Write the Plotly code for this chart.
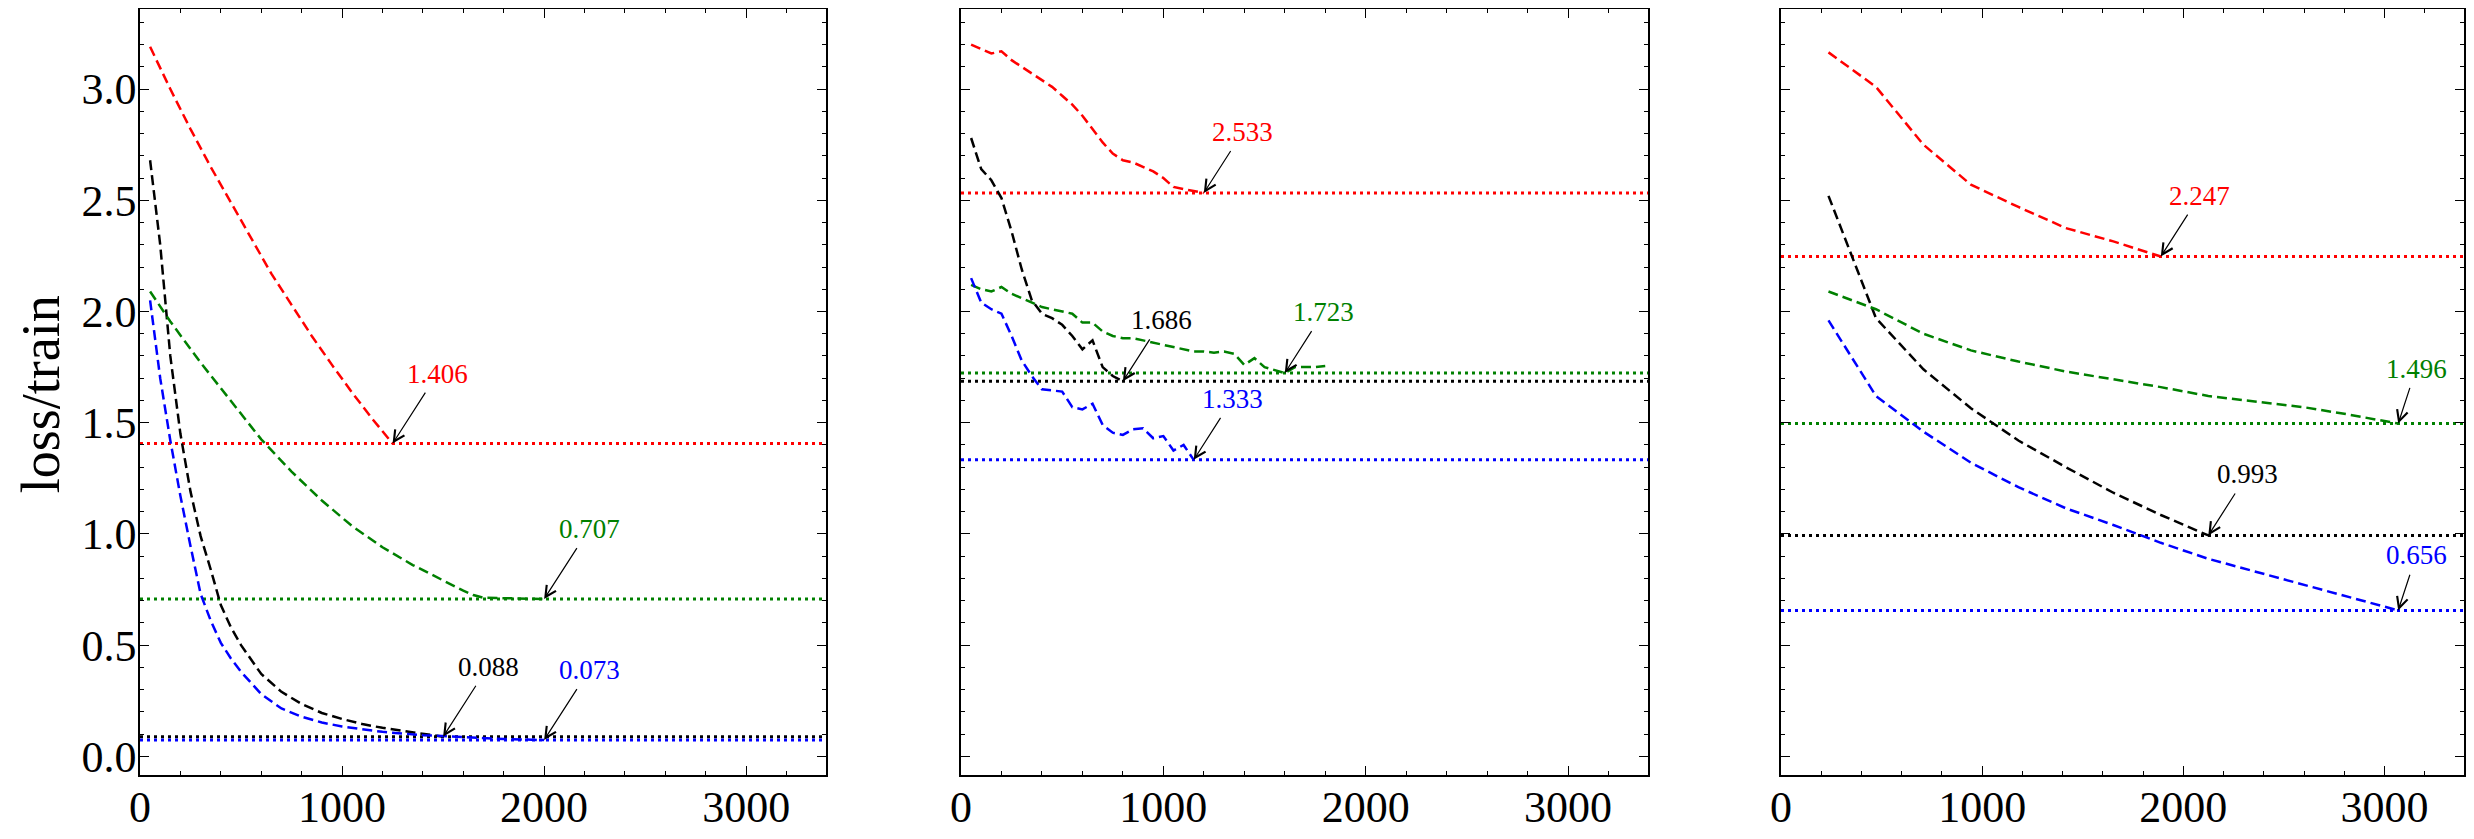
import plotly.graph_objects as go

# ---- panel 1 ----
p1_red_x = [50, 150, 250, 350, 450, 550, 650, 750, 850, 950, 1050, 1150, 1250]
p1_red = [3.19, 3.00, 2.82, 2.65, 2.49, 2.33, 2.17, 2.03, 1.89, 1.76, 1.635, 1.517, 1.406]

p1_black_x = [50, 100, 150, 200, 250, 300, 350, 400, 450, 500, 600, 700, 800, 900, 1000, 1100, 1200, 1300, 1400, 1500]
p1_black = [2.68, 2.30, 1.80, 1.45, 1.19, 0.99, 0.84, 0.68, 0.58, 0.50, 0.37, 0.29, 0.235, 0.195, 0.168, 0.145, 0.128, 0.115, 0.102, 0.088]

p1_green_x = [50, 150, 300, 450, 600, 750, 900, 1050, 1200, 1350, 1500, 1600, 1650, 1700, 1800, 1900, 2000]
p1_green = [2.09, 1.955, 1.77, 1.595, 1.425, 1.28, 1.15, 1.035, 0.94, 0.86, 0.79, 0.745, 0.725, 0.713, 0.711, 0.709, 0.707]

p1_blue_x = [50, 100, 150, 200, 250, 300, 350, 400, 450, 500, 600, 700, 800, 900, 1000, 1200, 1400, 1600, 1800, 2000]
p1_blue = [2.05, 1.70, 1.42, 1.17, 0.945, 0.73, 0.61, 0.51, 0.44, 0.38, 0.28, 0.215, 0.178, 0.152, 0.134, 0.110, 0.095, 0.085, 0.078, 0.073]

# ---- panel 2 ----
p2_red_x = list(range(50, 1201, 50))
p2_red = [3.20, 3.18, 3.16, 3.17, 3.13, 3.10, 3.07, 3.04, 3.01, 2.97, 2.93, 2.88,
          2.82, 2.76, 2.71, 2.68, 2.67, 2.65, 2.63, 2.60, 2.56, 2.55, 2.54, 2.533]

p2_black_x = list(range(50, 801, 50))
p2_black = [2.78, 2.64, 2.59, 2.51, 2.36, 2.19, 2.05, 1.99, 1.97, 1.94, 1.89, 1.83, 1.87, 1.75, 1.71, 1.686]

p2_green_x = list(range(50, 1801, 50))
p2_green = [2.12, 2.10, 2.09, 2.11, 2.08, 2.06, 2.04, 2.02, 2.01, 2.00, 1.99, 1.95,
            1.95, 1.91, 1.89, 1.88, 1.88, 1.87, 1.86, 1.85, 1.84, 1.83, 1.82, 1.82,
            1.815, 1.82, 1.81, 1.76, 1.79, 1.75, 1.735, 1.723, 1.75, 1.75, 1.75, 1.755]

p2_blue_x = list(range(50, 1151, 50))
p2_blue = [2.15, 2.04, 2.01, 1.99, 1.89, 1.78, 1.71, 1.65, 1.645, 1.64, 1.57, 1.56,
           1.585, 1.49, 1.455, 1.445, 1.47, 1.475, 1.43, 1.44, 1.375, 1.40, 1.333]

# ---- panel 3 ----
p3_x = [236, 472, 708, 944, 1180, 1416, 1652, 1888, 2124, 2360, 2596, 2832, 3068]
p3_red = [3.165, 3.01, 2.75, 2.57, 2.47, 2.375, 2.315, 2.247]
p3_black = [2.52, 1.97, 1.74, 1.565, 1.42, 1.30, 1.185, 1.085, 0.993]
p3_green = [2.09, 2.01, 1.90, 1.825, 1.775, 1.73, 1.695, 1.66, 1.62, 1.595, 1.57, 1.535, 1.496]
p3_blue = [1.96, 1.62, 1.46, 1.32, 1.21, 1.115, 1.04, 0.96, 0.888, 0.83, 0.77, 0.715, 0.656]

colors = {"red": "#ff0000", "black": "#000000", "green": "#008000", "blue": "#0000ff"}

panels = [
    [("red", p1_red_x, p1_red), ("black", p1_black_x, p1_black),
     ("green", p1_green_x, p1_green), ("blue", p1_blue_x, p1_blue)],
    [("red", p2_red_x, p2_red), ("black", p2_black_x, p2_black),
     ("green", p2_green_x, p2_green), ("blue", p2_blue_x, p2_blue)],
    [("red", p3_x[:len(p3_red)], p3_red), ("black", p3_x[:len(p3_black)], p3_black),
     ("green", p3_x, p3_green), ("blue", p3_x, p3_blue)],
]

# the page body has an 8px default margin, so the figure is 8px smaller
PAD = 8
W, H = 2474 - PAD, 839 - PAD
domains = [[(140 - PAD) / W, (826 - PAD) / W],
           [(961 - PAD) / W, (1648 - PAD) / W],
           [(1781 - PAD) / W, (2464 - PAD) / W]]
# label offsets (px) per panel; panel 3 right-edge labels sit closer
offsets = [(45, -70), (39, -61), (39, -61)]
FONT = "Liberation Serif"

fig = go.Figure()
annotations = []
shapes = []

for i, series in enumerate(panels):
    xa = "x" if i == 0 else f"x{i + 1}"
    ya = "y" if i == 0 else f"y{i + 1}"
    for name, xs, ys in series:
        c = colors[name]
        fig.add_trace(go.Scatter(x=xs, y=ys, mode="lines", xaxis=xa, yaxis=ya,
                                 line=dict(color=c, width=2.5, dash="10px,5px"),
                                 showlegend=False, hoverinfo="skip"))
        m = min(ys)
        mx = xs[ys.index(m)]
        shapes.append(dict(type="line", xref=f"{xa} domain", yref=ya, x0=0, x1=1, y0=m, y1=m,
                           line=dict(color=c, width=3, dash="3px,4px"), layer="below"))
        ax, ay = offsets[i]
        if i == 2 and name in ("green", "blue"):
            ax, ay = 18, -55
        annotations.append(dict(x=mx, y=m, xref=xa, yref=ya, text=f"{m:.3f}",
                                showarrow=True, ax=ax, ay=ay, arrowhead=5, arrowsize=1.8,
                                arrowwidth=1.2, arrowcolor="black", startstandoff=3,
                                font=dict(family=FONT, size=27, color=c)))

annotations.append(dict(text="loss/train", xref="paper", yref="paper", x=(41 - PAD) / W, y=0.497,
                        showarrow=False, textangle=-90, xanchor="center", yanchor="middle",
                        font=dict(family=FONT, size=54, color="black")))

axis_common = dict(showline=True, linecolor="black", linewidth=1.6, mirror="allticks",
                   ticks="inside", ticklen=9, tickwidth=1.3, tickcolor="black",
                   showgrid=False, zeroline=False, automargin=False,
                   tickfont=dict(family=FONT, size=44, color="black"))

layout = dict(width=W, height=H, plot_bgcolor="white", paper_bgcolor="white",
              margin=dict(l=0, r=0, t=9 - PAD, b=839 - 775), shapes=shapes,
              annotations=annotations)

for i in range(3):
    sx = "" if i == 0 else str(i + 1)
    layout[f"xaxis{sx}"] = dict(axis_common, domain=domains[i], anchor=f"y{sx}",
                                range=[0, 3395], dtick=1000, tick0=0, ticklabelstandoff=-8,
                                minor=dict(ticks="inside", dtick=200, ticklen=4.5,
                                           tickwidth=1.1, tickcolor="black"))
    layout[f"yaxis{sx}"] = dict(axis_common, domain=[0, 1], anchor=f"x{sx}",
                                range=[-0.084, 3.36], dtick=0.5, tick0=0, tickformat=".1f",
                                showticklabels=(i == 0), ticklabelstandoff=-7,
                                minor=dict(ticks="inside", dtick=0.1, ticklen=4.5,
                                           tickwidth=1.1, tickcolor="black"))

fig.update_layout(layout)
fig.write_html("out.html")
